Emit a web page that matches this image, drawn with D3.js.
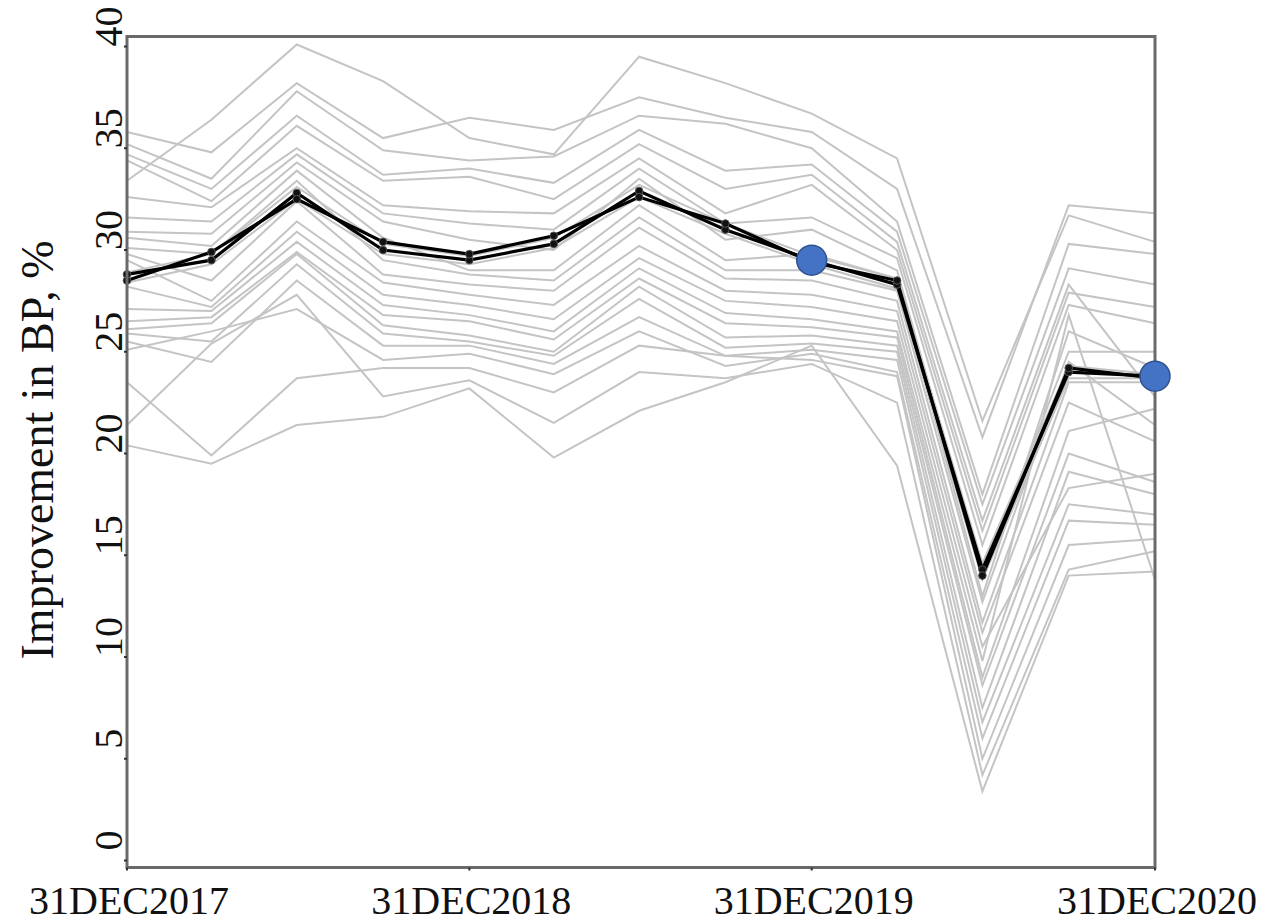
<!DOCTYPE html>
<html>
<head>
<meta charset="utf-8">
<script src="https://cdn.jsdelivr.net/npm/d3@7"></script>
<style>
  html, body { margin: 0; padding: 0; background: #ffffff; }
  svg { display: block; }
</style>
</head>
<body>
<svg id="chart" width="1281" height="923"></svg>
<script>
// ---------------- data ----------------
const dates = ["2017-12-31","2018-03-31","2018-06-30","2018-09-30","2018-12-31",
               "2019-03-31","2019-06-30","2019-09-30","2019-12-31",
               "2020-03-31","2020-06-30","2020-09-30","2020-12-31"];

const xTickDates = ["2017-12-31","2018-12-31","2019-12-31","2020-12-31"];
const yTicks = [0, 5, 10, 15, 20, 25, 30, 35, 40];
const yTitle = "Improvement in BP, %";

const greyLines = [
  [33.4, 36.4, 40.1, 38.3, 35.5, 34.7, 39.5, 38.2, 36.7, 34.5, 21.6, 31.7, 30.4],
  [35.8, 34.8, 38.2, 35.5, 36.5, 35.9, 37.5, 36.5, 35.8, 33.0, 20.8, 32.2, 31.8],
  [35.2, 33.5, 37.8, 34.9, 34.4, 34.6, 36.6, 36.2, 35.0, 31.4, 18.0, 30.3, 29.8],
  [34.7, 33.0, 36.6, 33.7, 34.0, 33.3, 35.9, 33.9, 34.2, 30.9, 17.5, 29.1, 28.3],
  [34.4, 32.4, 36.1, 33.4, 33.6, 32.5, 35.2, 33.0, 33.7, 30.4, 16.7, 28.3, 22.8],
  [32.6, 32.1, 35.0, 32.2, 31.9, 31.8, 34.5, 31.8, 33.2, 30.0, 16.2, 27.9, 27.2],
  [31.6, 31.4, 34.7, 31.8, 31.3, 31.0, 34.0, 31.3, 31.6, 29.6, 15.5, 27.3, 26.4],
  [30.9, 30.8, 34.3, 31.4, 30.5, 30.0, 33.5, 30.5, 31.0, 29.0, 14.0, 25.0, 25.0],
  [30.6, 30.2, 33.9, 30.6, 29.0, 29.0, 32.2, 29.5, 29.8, 28.6, 13.0, 26.0, 24.2],
  [30.1, 29.8, 33.4, 29.5, 28.8, 28.5, 31.6, 29.0, 29.0, 28.0, 12.7, 24.5, 21.4],
  [29.8, 28.5, 32.4, 28.8, 28.3, 28.0, 31.1, 28.6, 28.5, 27.5, 11.7, 23.5, 23.5],
  [29.5, 27.5, 31.4, 28.4, 27.8, 27.3, 30.2, 28.0, 27.8, 27.0, 11.2, 22.5, 20.6],
  [28.2, 27.2, 30.9, 27.8, 27.3, 26.6, 29.6, 27.5, 27.2, 26.5, 10.5, 18.3, 19.0],
  [27.1, 27.0, 30.4, 27.3, 26.8, 26.0, 29.1, 26.9, 26.6, 26.0,  9.8, 26.8, 13.8],
  [26.5, 26.7, 29.9, 26.8, 26.5, 25.6, 28.6, 26.4, 26.2, 25.7,  9.0, 21.1, 22.2],
  [26.1, 26.4, 29.8, 26.3, 25.8, 25.0, 28.2, 25.7, 25.8, 25.3,  8.6, 20.0, 18.6],
  [25.9, 25.5, 29.3, 25.9, 25.5, 24.8, 27.6, 25.2, 25.4, 25.0,  7.5, 19.1, 18.0],
  [25.5, 24.5, 28.5, 25.3, 25.3, 24.4, 26.7, 24.8, 25.1, 24.6,  6.8, 17.5, 17.0],
  [25.1, 26.0, 27.1, 24.6, 24.9, 23.9, 26.0, 24.3, 24.9, 24.0,  6.0, 16.7, 16.5],
  [23.5, 19.9, 23.7, 24.2, 24.2, 23.0, 25.3, 24.8, 24.6, 23.8,  5.0, 15.5, 15.8],
  [21.4, 25.4, 27.8, 22.8, 23.6, 21.5, 24.0, 23.7, 24.4, 22.5,  4.2, 14.3, 15.2],
  [20.4, 19.5, 21.4, 21.8, 23.2, 19.8, 22.1, 23.5, 25.3, 19.4,  3.4, 14.0, 14.2],
  [28.9, 29.8, 33.1, 30.3, 29.7, 30.6, 33.2, 31.3, 29.7, 28.6, 14.6, 24.3, 23.9],
  [28.4, 29.3, 32.5, 29.8, 29.3, 30.1, 32.6, 30.8, 29.3, 28.1, 13.8, 23.7, 23.7]
];

const blackLines = [
  [28.8, 29.5, 32.8, 30.0, 29.5, 30.3, 32.9, 31.0, 29.5, 28.3, 14.3, 24.0, 23.8],
  [28.5, 29.9, 32.5, 30.4, 29.8, 30.7, 32.6, 31.3, 29.4, 28.5, 14.0, 24.2, 23.7]
];

const highlightDates = ["2019-12-31", "2020-12-31"];
const highlightValues = [29.5, 23.8];

// ---------------- drawing ----------------
(function () {
const parse = d3.utcParse("%Y-%m-%d");
const fmt = d => d3.utcFormat("%d%b%Y")(d).toUpperCase();

const plotLeft = 127, plotRight = 1155, plotTop = 36.5, plotBottom = 867.5;

const x = d3.scaleUtc()
  .domain([parse(dates[0]), parse(dates[dates.length - 1])])
  .range([plotLeft, plotRight]);

const y = d3.scaleLinear()
  .domain([0, 40])
  .range([860.5, 46.5]);

const svg = d3.select("#chart");
svg.append("rect").attr("width", 1281).attr("height", 923).attr("fill", "#ffffff");

const line = d3.line()
  .x((d, i) => x(parse(dates[i])))
  .y(d => y(d));

// grey lines
svg.append("g")
  .selectAll("path")
  .data(greyLines)
  .join("path")
  .attr("d", line)
  .attr("fill", "none")
  .attr("stroke", "#c4c4c4")
  .attr("stroke-width", 2)
  .attr("stroke-linejoin", "miter");

// black lines
const bg = svg.append("g");
bg.selectAll("path")
  .data(blackLines)
  .join("path")
  .attr("d", line)
  .attr("fill", "none")
  .attr("stroke", "#000000")
  .attr("stroke-width", 3.2);

blackLines.forEach(series => {
  bg.append("g").selectAll("circle")
    .data(series)
    .join("circle")
    .attr("cx", (d, i) => x(parse(dates[i])))
    .attr("cy", d => y(d))
    .attr("r", 3.8)
    .attr("fill", "#111111")
    .attr("stroke", "#555555")
    .attr("stroke-width", 1);
});

// frame
const frameColor = "#6a6a6a";
svg.append("rect")
  .attr("x", plotLeft).attr("y", plotTop)
  .attr("width", plotRight - plotLeft).attr("height", plotBottom - plotTop)
  .attr("fill", "none")
  .attr("stroke", frameColor)
  .attr("stroke-width", 3);

// y axis ticks and labels
const yAxis = svg.append("g");
yAxis.selectAll("line")
  .data(yTicks)
  .join("line")
  .attr("x1", plotLeft - 3).attr("x2", plotLeft)
  .attr("y1", d => y(d)).attr("y2", d => y(d))
  .attr("stroke", "#333")
  .attr("stroke-width", 2);
yAxis.selectAll("text")
  .data(yTicks)
  .join("text")
  .attr("transform", d => `translate(122,${y(d) - 20}) rotate(-90)`)
  .attr("text-anchor", "middle")
  .attr("font-family", "'Liberation Serif', 'Times New Roman', serif")
  .attr("font-size", 40)
  .attr("fill", "#111")
  .text(d => d);

// x axis ticks and labels
const xAxis = svg.append("g");
xAxis.selectAll("line")
  .data(xTickDates)
  .join("line")
  .attr("x1", d => x(parse(d))).attr("x2", d => x(parse(d)))
  .attr("y1", plotBottom).attr("y2", plotBottom + 3)
  .attr("stroke", "#333")
  .attr("stroke-width", 2);
xAxis.selectAll("text")
  .data(xTickDates)
  .join("text")
  .attr("x", d => x(parse(d)) + 2)
  .attr("y", 914)
  .attr("text-anchor", "middle")
  .attr("font-family", "'Liberation Serif', 'Times New Roman', serif")
  .attr("font-size", 40)
  .attr("fill", "#111")
  .text(d => fmt(parse(d)));

// y title
svg.append("text")
  .attr("transform", "translate(53,450) rotate(-90)")
  .attr("text-anchor", "middle")
  .attr("font-family", "'Liberation Serif', 'Times New Roman', serif")
  .attr("font-size", 46)
  .attr("fill", "#111")
  .text(yTitle);

// highlighted points
svg.append("g")
  .selectAll("circle")
  .data(highlightValues)
  .join("circle")
  .attr("cx", (d, i) => x(parse(highlightDates[i])))
  .attr("cy", d => y(d))
  .attr("r", 15)
  .attr("fill", "#4472C4")
  .attr("stroke", "#2F528F")
  .attr("stroke-width", 1.5);
})();
</script>
</body>
</html>
